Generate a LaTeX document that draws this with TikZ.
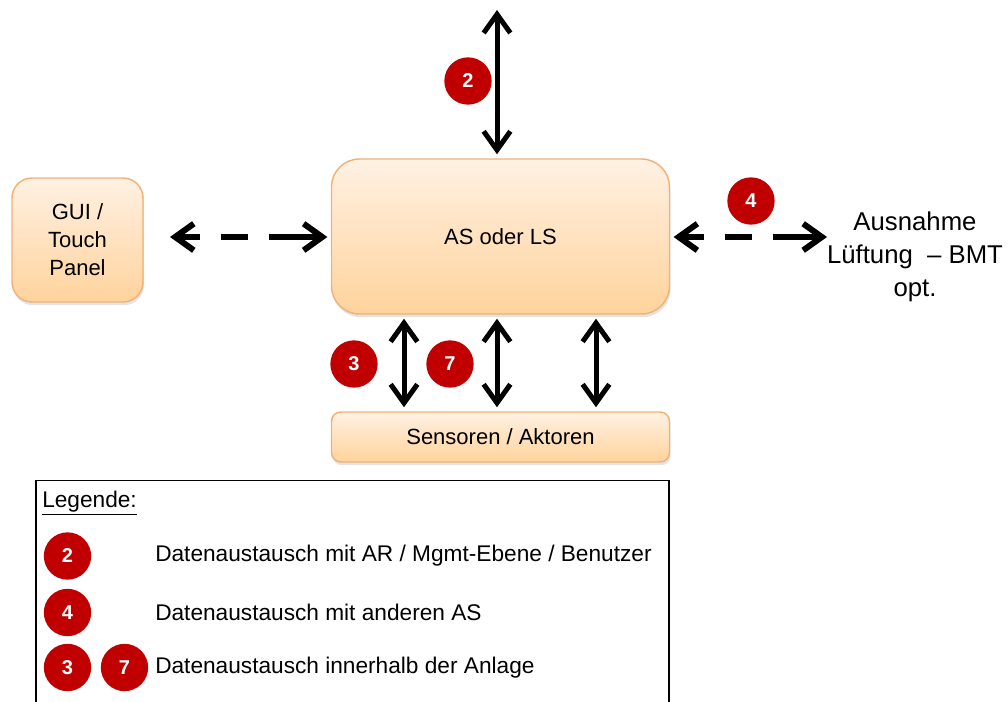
\documentclass[tikz,border=0pt]{standalone}
\usepackage{fontspec}
\setmainfont{Liberation Sans}
\usetikzlibrary{arrows.meta,shadows}
\definecolor{badge}{HTML}{C00000}
\definecolor{boxtop}{HTML}{FFF1E3}
\definecolor{boxbot}{HTML}{FFD39C}
\definecolor{boxedge}{HTML}{F2B277}
\begin{document}
\begin{tikzpicture}[x=0.75pt,y=-0.75pt,
  box/.style={draw=boxedge, line width=1.1pt, top color=boxtop, bottom color=boxbot,
    drop shadow={opacity=0.22,shadow xshift=0.8pt,shadow yshift=-2.4pt},
    font=\fontsize{16.5}{21}\selectfont, align=center, inner sep=0pt},
  badgenode/.style={circle, fill=badge, text=white, font=\bfseries\fontsize{15}{15}\selectfont,
    minimum size=35.5pt, inner sep=0pt},
  tipbarb/.tip={Straight Barb[length=14pt,width=20pt]},
  dbl/.style={line width=3.75pt, tipbarb-tipbarb},
  dsh/.style={line width=4.5pt, dash pattern=on 16.5pt off 15.75pt on 20.25pt off 15.75pt on 60pt, tipbarb-tipbarb},
  legtext/.style={anchor=west, font=\fontsize{17}{20}\selectfont, inner sep=0pt}
]
\useasboundingbox (0,0) rectangle (1008,702);

% boxes
\node[box, minimum width=98.25pt, minimum height=93pt, rounded corners=15pt] (GUI) at (77.5,240)
  {GUI /\\Touch\\Panel};
\node[box, minimum width=253.5pt, minimum height=116.25pt, rounded corners=21pt] (AS) at (500.5,236.5)
  {AS oder LS};
\node[box, minimum width=253.5pt, minimum height=37.5pt, rounded corners=7pt] (Sens) at (500.5,437)
  {Sensoren / Aktoren};

\node[align=center, font=\fontsize{19.3}{24.75}\selectfont, inner sep=0pt] (ausn) at (915,257)
  {Ausnahme\\Lüftung~ – BMT\\opt.};

% coordinates
\coordinate (topend) at (497,10);
\coordinate (lend) at (170,237);
\coordinate (rend) at (827,237);
\coordinate (c1) at (404,0);
\coordinate (c2) at (497,0);
\coordinate (c3) at (596,0);

% connectors
\draw[dbl, shorten <=3pt] (AS.north -| topend) -- (topend);
\draw[dbl, shorten <=3pt, shorten >=3pt] (AS.south -| c1) -- (Sens.north -| c1);
\draw[dbl, shorten <=3pt, shorten >=3pt] (AS.south -| c2) -- (Sens.north -| c2);
\draw[dbl, shorten <=3pt, shorten >=3pt] (AS.south -| c3) -- (Sens.north -| c3);
\draw[dsh, shorten >=2.5pt] (lend) -- (lend -| AS.west);
\draw[dsh, shorten <=2.5pt] (rend -| AS.east) -- (rend);

% badges
\node[badgenode] (b2) at (468,81) {2};
\node[badgenode] (b4) at (751,201) {4};
\node[badgenode] (b3) at (354,364) {3};
\node[badgenode] (b7) at (450,364) {7};

% legend
\draw[line width=1.1pt] (36,702) -- (36,480.5) -- (669,480.5) -- (669,702);
\node[legtext] (leg) at (42,503) {\underline{Legende:}};
\node[badgenode] (l2) at (67.5,556) {2};
\node[badgenode] (l4) at (67.5,612.5) {4};
\node[badgenode] (l3) at (67.5,667.5) {3};
\node[badgenode] (l7) at (124.5,667.5) {7};
\node[legtext] (t2) at (155,556) {Datenaustausch mit AR / Mgmt-Ebene / Benutzer};
\node[legtext] (t4) at (155,612.5) {Datenaustausch mit anderen AS};
\node[legtext] (t3) at (155,667.5) {Datenaustausch innerhalb der Anlage};
\end{tikzpicture}
\end{document}
